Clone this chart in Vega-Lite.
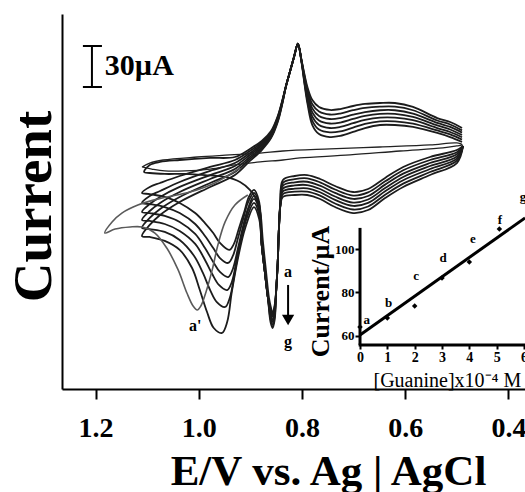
{
"$schema":"https://vega.github.io/schema/vega-lite/v6.json",
"width":463,"height":375,
"autosize":{"type":"none"},
"padding":{"left":62,"top":14,"right":0,"bottom":103},
"background":"white",
"config":{"view":{"stroke":null},"font":"Liberation Serif"},
"datasets":{
"cv":[
{"c":"a","o":1,"E":0.490,"I":180.7},{"c":"a","o":2,"E":0.513,"I":184.3},{"c":"a","o":3,"E":0.538,"I":187.3},{"c":"a","o":4,"E":0.585,"I":191.7},{"c":"a","o":5,"E":0.620,"I":193.1},{"c":"a","o":6,"E":0.649,"I":193.1},{"c":"a","o":7,"E":0.678,"I":190.9},{"c":"a","o":8,"E":0.701,"I":188.0},{"c":"a","o":9,"E":0.726,"I":185.1},{"c":"a","o":10,"E":0.746,"I":184.3},{"c":"a","o":11,"E":0.767,"I":186.5},{"c":"a","o":12,"E":0.780,"I":193.1},{"c":"a","o":13,"E":0.789,"I":207.8},{"c":"a","o":14,"E":0.795,"I":222.4},{"c":"a","o":15,"E":0.801,"I":239.2},{"c":"a","o":16,"E":0.808,"I":252.7},{"c":"a","o":17,"E":0.815,"I":243.6},{"c":"a","o":18,"E":0.823,"I":232.6},{"c":"a","o":19,"E":0.831,"I":221.7},{"c":"a","o":20,"E":0.837,"I":212.9},{"c":"a","o":21,"E":0.847,"I":199.7},{"c":"a","o":22,"E":0.860,"I":188.7},{"c":"a","o":23,"E":0.878,"I":181.4},{"c":"a","o":24,"E":0.901,"I":175.6},{"c":"a","o":25,"E":0.930,"I":169.7},{"c":"a","o":26,"E":0.978,"I":169.0},{"c":"a","o":27,"E":1.037,"I":167.5},{"c":"a","o":28,"E":1.075,"I":166.1},{"c":"a","o":29,"E":1.095,"I":163.9},{"c":"a","o":30,"E":1.106,"I":158.7},{"c":"a","o":31,"E":1.095,"I":158.0},{"c":"a","o":32,"E":1.066,"I":157.3},{"c":"a","o":33,"E":1.027,"I":157.3},{"c":"a","o":34,"E":0.988,"I":156.5},{"c":"a","o":35,"E":0.949,"I":155.1},{"c":"a","o":36,"E":0.920,"I":151.4},{"c":"a","o":37,"E":0.901,"I":145.6},{"c":"a","o":38,"E":0.889,"I":139.0},{"c":"a","o":39,"E":0.881,"I":129.5},{"c":"a","o":40,"E":0.876,"I":109.0},{"c":"a","o":41,"E":0.870,"I":87.1},{"c":"a","o":42,"E":0.864,"I":66.6},{"c":"a","o":43,"E":0.860,"I":59.3},{"c":"a","o":44,"E":0.857,"I":55.6},{"c":"a","o":45,"E":0.853,"I":61.4},{"c":"a","o":46,"E":0.850,"I":72.4},{"c":"a","o":47,"E":0.847,"I":92.9},{"c":"a","o":48,"E":0.845,"I":114.9},{"c":"a","o":49,"E":0.842,"I":134.6},{"c":"a","o":50,"E":0.837,"I":152.9},{"c":"a","o":51,"E":0.814,"I":155.8},{"c":"a","o":52,"E":0.790,"I":156.5},{"c":"a","o":53,"E":0.765,"I":153.6},{"c":"a","o":54,"E":0.736,"I":148.5},{"c":"a","o":55,"E":0.701,"I":144.1},{"c":"a","o":56,"E":0.672,"I":146.3},{"c":"a","o":57,"E":0.639,"I":154.4},{"c":"a","o":58,"E":0.604,"I":162.4},{"c":"a","o":59,"E":0.552,"I":169.7},{"c":"a","o":60,"E":0.500,"I":174.8},{"c":"a","o":61,"E":0.488,"I":177.8},
{"c":"b","o":1,"E":0.490,"I":182.4},{"c":"b","o":2,"E":0.513,"I":186.2},{"c":"b","o":3,"E":0.538,"I":189.1},{"c":"b","o":4,"E":0.585,"I":194.1},{"c":"b","o":5,"E":0.620,"I":195.8},{"c":"b","o":6,"E":0.649,"I":195.8},{"c":"b","o":7,"E":0.678,"I":193.9},{"c":"b","o":8,"E":0.701,"I":191.2},{"c":"b","o":9,"E":0.726,"I":188.4},{"c":"b","o":10,"E":0.746,"I":187.7},{"c":"b","o":11,"E":0.767,"I":189.8},{"c":"b","o":12,"E":0.780,"I":196.2},{"c":"b","o":13,"E":0.789,"I":209.8},{"c":"b","o":14,"E":0.795,"I":223.6},{"c":"b","o":15,"E":0.801,"I":239.4},{"c":"b","o":16,"E":0.808,"I":252.7},{"c":"b","o":17,"E":0.815,"I":243.6},{"c":"b","o":18,"E":0.823,"I":232.6},{"c":"b","o":19,"E":0.831,"I":221.7},{"c":"b","o":20,"E":0.837,"I":212.5},{"c":"b","o":21,"E":0.847,"I":199.0},{"c":"b","o":22,"E":0.860,"I":187.9},{"c":"b","o":23,"E":0.878,"I":180.3},{"c":"b","o":24,"E":0.901,"I":174.1},{"c":"b","o":25,"E":0.930,"I":167.5},{"c":"b","o":26,"E":0.978,"I":162.4},{"c":"b","o":27,"E":1.037,"I":155.8},{"c":"b","o":28,"E":1.075,"I":150.7},{"c":"b","o":29,"E":1.095,"I":147.8},{"c":"b","o":30,"E":1.110,"I":143.4},{"c":"b","o":31,"E":1.095,"I":142.6},{"c":"b","o":32,"E":1.066,"I":140.5},{"c":"b","o":33,"E":1.037,"I":136.1},{"c":"b","o":34,"E":1.007,"I":128.7},{"c":"b","o":35,"E":0.988,"I":121.4},{"c":"b","o":36,"E":0.972,"I":114.1},{"c":"b","o":37,"E":0.959,"I":106.8},{"c":"b","o":38,"E":0.941,"I":101.7},{"c":"b","o":39,"E":0.932,"I":106.1},{"c":"b","o":40,"E":0.922,"I":117.8},{"c":"b","o":41,"E":0.912,"I":129.5},{"c":"b","o":42,"E":0.903,"I":140.5},{"c":"b","o":43,"E":0.893,"I":145.6},{"c":"b","o":44,"E":0.883,"I":136.8},{"c":"b","o":45,"E":0.878,"I":105.3},{"c":"b","o":46,"E":0.872,"I":85.6},{"c":"b","o":47,"E":0.866,"I":66.6},{"c":"b","o":48,"E":0.861,"I":58.5},{"c":"b","o":49,"E":0.857,"I":54.1},{"c":"b","o":50,"E":0.853,"I":60.0},{"c":"b","o":51,"E":0.850,"I":72.4},{"c":"b","o":52,"E":0.847,"I":92.9},{"c":"b","o":53,"E":0.845,"I":114.9},{"c":"b","o":54,"E":0.842,"I":134.6},{"c":"b","o":55,"E":0.837,"I":150.8},{"c":"b","o":56,"E":0.814,"I":153.5},{"c":"b","o":57,"E":0.790,"I":154.1},{"c":"b","o":58,"E":0.765,"I":151.2},{"c":"b","o":59,"E":0.736,"I":145.9},{"c":"b","o":60,"E":0.701,"I":141.5},{"c":"b","o":61,"E":0.672,"I":143.8},{"c":"b","o":62,"E":0.639,"I":151.9},{"c":"b","o":63,"E":0.604,"I":160.0},{"c":"b","o":64,"E":0.552,"I":167.5},{"c":"b","o":65,"E":0.500,"I":173.2},{"c":"b","o":66,"E":0.488,"I":177.8},
{"c":"c","o":1,"E":0.490,"I":184.1},{"c":"c","o":2,"E":0.513,"I":188.0},{"c":"c","o":3,"E":0.538,"I":190.9},{"c":"c","o":4,"E":0.585,"I":196.6},{"c":"c","o":5,"E":0.620,"I":198.5},{"c":"c","o":6,"E":0.649,"I":198.5},{"c":"c","o":7,"E":0.678,"I":196.8},{"c":"c","o":8,"E":0.701,"I":194.4},{"c":"c","o":9,"E":0.726,"I":191.7},{"c":"c","o":10,"E":0.746,"I":190.9},{"c":"c","o":11,"E":0.767,"I":193.1},{"c":"c","o":12,"E":0.780,"I":199.2},{"c":"c","o":13,"E":0.789,"I":211.9},{"c":"c","o":14,"E":0.795,"I":224.8},{"c":"c","o":15,"E":0.801,"I":239.7},{"c":"c","o":16,"E":0.808,"I":252.7},{"c":"c","o":17,"E":0.815,"I":243.6},{"c":"c","o":18,"E":0.823,"I":232.6},{"c":"c","o":19,"E":0.831,"I":221.7},{"c":"c","o":20,"E":0.837,"I":212.2},{"c":"c","o":21,"E":0.847,"I":198.2},{"c":"c","o":22,"E":0.860,"I":187.0},{"c":"c","o":23,"E":0.878,"I":179.2},{"c":"c","o":24,"E":0.901,"I":172.6},{"c":"c","o":25,"E":0.930,"I":165.3},{"c":"c","o":26,"E":0.978,"I":159.5},{"c":"c","o":27,"E":1.037,"I":151.4},{"c":"c","o":28,"E":1.075,"I":144.8},{"c":"c","o":29,"E":1.095,"I":141.2},{"c":"c","o":30,"E":1.110,"I":136.1},{"c":"c","o":31,"E":1.095,"I":135.3},{"c":"c","o":32,"E":1.066,"I":133.1},{"c":"c","o":33,"E":1.037,"I":128.7},{"c":"c","o":34,"E":1.007,"I":120.7},{"c":"c","o":35,"E":0.988,"I":111.9},{"c":"c","o":36,"E":0.972,"I":103.1},{"c":"c","o":37,"E":0.959,"I":95.8},{"c":"c","o":38,"E":0.943,"I":92.2},{"c":"c","o":39,"E":0.934,"I":97.3},{"c":"c","o":40,"E":0.924,"I":110.5},{"c":"c","o":41,"E":0.914,"I":124.4},{"c":"c","o":42,"E":0.905,"I":136.1},{"c":"c","o":43,"E":0.893,"I":143.4},{"c":"c","o":44,"E":0.883,"I":134.6},{"c":"c","o":45,"E":0.878,"I":105.3},{"c":"c","o":46,"E":0.872,"I":85.6},{"c":"c","o":47,"E":0.866,"I":66.6},{"c":"c","o":48,"E":0.861,"I":57.1},{"c":"c","o":49,"E":0.857,"I":52.7},{"c":"c","o":50,"E":0.853,"I":58.5},{"c":"c","o":51,"E":0.850,"I":72.4},{"c":"c","o":52,"E":0.847,"I":92.9},{"c":"c","o":53,"E":0.845,"I":114.9},{"c":"c","o":54,"E":0.842,"I":134.6},{"c":"c","o":55,"E":0.837,"I":148.7},{"c":"c","o":56,"E":0.814,"I":151.2},{"c":"c","o":57,"E":0.790,"I":151.6},{"c":"c","o":58,"E":0.765,"I":148.7},{"c":"c","o":59,"E":0.736,"I":143.4},{"c":"c","o":60,"E":0.701,"I":139.0},{"c":"c","o":61,"E":0.672,"I":141.2},{"c":"c","o":62,"E":0.639,"I":149.5},{"c":"c","o":63,"E":0.604,"I":157.5},{"c":"c","o":64,"E":0.552,"I":165.3},{"c":"c","o":65,"E":0.500,"I":171.7},{"c":"c","o":66,"E":0.488,"I":177.8},
{"c":"d","o":1,"E":0.490,"I":185.8},{"c":"d","o":2,"E":0.513,"I":189.8},{"c":"d","o":3,"E":0.538,"I":192.8},{"c":"d","o":4,"E":0.585,"I":199.0},{"c":"d","o":5,"E":0.620,"I":201.2},{"c":"d","o":6,"E":0.649,"I":201.2},{"c":"d","o":7,"E":0.678,"I":199.7},{"c":"d","o":8,"E":0.701,"I":197.5},{"c":"d","o":9,"E":0.726,"I":194.9},{"c":"d","o":10,"E":0.746,"I":194.2},{"c":"d","o":11,"E":0.767,"I":196.4},{"c":"d","o":12,"E":0.780,"I":202.3},{"c":"d","o":13,"E":0.789,"I":214.0},{"c":"d","o":14,"E":0.795,"I":226.0},{"c":"d","o":15,"E":0.801,"I":239.9},{"c":"d","o":16,"E":0.808,"I":252.7},{"c":"d","o":17,"E":0.815,"I":243.6},{"c":"d","o":18,"E":0.823,"I":232.6},{"c":"d","o":19,"E":0.831,"I":221.7},{"c":"d","o":20,"E":0.837,"I":211.8},{"c":"d","o":21,"E":0.847,"I":197.5},{"c":"d","o":22,"E":0.860,"I":186.1},{"c":"d","o":23,"E":0.878,"I":178.1},{"c":"d","o":24,"E":0.901,"I":171.2},{"c":"d","o":25,"E":0.930,"I":163.1},{"c":"d","o":26,"E":0.978,"I":156.5},{"c":"d","o":27,"E":1.037,"I":147.8},{"c":"d","o":28,"E":1.075,"I":140.5},{"c":"d","o":29,"E":1.095,"I":135.3},{"c":"d","o":30,"E":1.110,"I":129.5},{"c":"d","o":31,"E":1.095,"I":128.7},{"c":"d","o":32,"E":1.066,"I":126.6},{"c":"d","o":33,"E":1.037,"I":122.2},{"c":"d","o":34,"E":1.007,"I":113.4},{"c":"d","o":35,"E":0.988,"I":103.1},{"c":"d","o":36,"E":0.972,"I":92.9},{"c":"d","o":37,"E":0.959,"I":85.6},{"c":"d","o":38,"E":0.943,"I":81.9},{"c":"d","o":39,"E":0.934,"I":87.8},{"c":"d","o":40,"E":0.924,"I":103.1},{"c":"d","o":41,"E":0.914,"I":119.2},{"c":"d","o":42,"E":0.905,"I":131.7},{"c":"d","o":43,"E":0.893,"I":141.2},{"c":"d","o":44,"E":0.883,"I":132.4},{"c":"d","o":45,"E":0.878,"I":105.3},{"c":"d","o":46,"E":0.872,"I":85.6},{"c":"d","o":47,"E":0.866,"I":66.6},{"c":"d","o":48,"E":0.861,"I":54.9},{"c":"d","o":49,"E":0.857,"I":50.5},{"c":"d","o":50,"E":0.853,"I":56.3},{"c":"d","o":51,"E":0.850,"I":72.4},{"c":"d","o":52,"E":0.847,"I":92.9},{"c":"d","o":53,"E":0.845,"I":114.9},{"c":"d","o":54,"E":0.842,"I":134.6},{"c":"d","o":55,"E":0.837,"I":146.6},{"c":"d","o":56,"E":0.814,"I":148.9},{"c":"d","o":57,"E":0.790,"I":149.2},{"c":"d","o":58,"E":0.765,"I":146.3},{"c":"d","o":59,"E":0.736,"I":140.8},{"c":"d","o":60,"E":0.701,"I":136.4},{"c":"d","o":61,"E":0.672,"I":138.6},{"c":"d","o":62,"E":0.639,"I":147.0},{"c":"d","o":63,"E":0.604,"I":155.1},{"c":"d","o":64,"E":0.552,"I":163.1},{"c":"d","o":65,"E":0.500,"I":170.1},{"c":"d","o":66,"E":0.488,"I":177.8},
{"c":"e","o":1,"E":0.490,"I":187.5},{"c":"e","o":2,"E":0.513,"I":191.7},{"c":"e","o":3,"E":0.538,"I":194.6},{"c":"e","o":4,"E":0.585,"I":201.4},{"c":"e","o":5,"E":0.620,"I":203.9},{"c":"e","o":6,"E":0.649,"I":203.9},{"c":"e","o":7,"E":0.678,"I":202.6},{"c":"e","o":8,"E":0.701,"I":200.7},{"c":"e","o":9,"E":0.726,"I":198.2},{"c":"e","o":10,"E":0.746,"I":197.5},{"c":"e","o":11,"E":0.767,"I":199.7},{"c":"e","o":12,"E":0.780,"I":205.3},{"c":"e","o":13,"E":0.789,"I":216.0},{"c":"e","o":14,"E":0.795,"I":227.3},{"c":"e","o":15,"E":0.801,"I":240.2},{"c":"e","o":16,"E":0.808,"I":252.7},{"c":"e","o":17,"E":0.815,"I":243.6},{"c":"e","o":18,"E":0.823,"I":232.6},{"c":"e","o":19,"E":0.831,"I":221.7},{"c":"e","o":20,"E":0.837,"I":211.4},{"c":"e","o":21,"E":0.847,"I":196.8},{"c":"e","o":22,"E":0.860,"I":185.3},{"c":"e","o":23,"E":0.878,"I":177.0},{"c":"e","o":24,"E":0.901,"I":169.7},{"c":"e","o":25,"E":0.930,"I":160.9},{"c":"e","o":26,"E":0.978,"I":153.6},{"c":"e","o":27,"E":1.037,"I":144.1},{"c":"e","o":28,"E":1.075,"I":136.1},{"c":"e","o":29,"E":1.095,"I":130.2},{"c":"e","o":30,"E":1.110,"I":123.6},{"c":"e","o":31,"E":1.095,"I":122.9},{"c":"e","o":32,"E":1.066,"I":120.7},{"c":"e","o":33,"E":1.037,"I":115.6},{"c":"e","o":34,"E":1.007,"I":106.1},{"c":"e","o":35,"E":0.988,"I":94.4},{"c":"e","o":36,"E":0.974,"I":84.1},{"c":"e","o":37,"E":0.961,"I":76.1},{"c":"e","o":38,"E":0.945,"I":72.4},{"c":"e","o":39,"E":0.936,"I":78.3},{"c":"e","o":40,"E":0.926,"I":95.8},{"c":"e","o":41,"E":0.916,"I":114.1},{"c":"e","o":42,"E":0.905,"I":130.2},{"c":"e","o":43,"E":0.893,"I":139.0},{"c":"e","o":44,"E":0.883,"I":130.2},{"c":"e","o":45,"E":0.878,"I":105.3},{"c":"e","o":46,"E":0.872,"I":85.6},{"c":"e","o":47,"E":0.866,"I":66.6},{"c":"e","o":48,"E":0.861,"I":53.4},{"c":"e","o":49,"E":0.857,"I":49.0},{"c":"e","o":50,"E":0.853,"I":54.9},{"c":"e","o":51,"E":0.850,"I":72.4},{"c":"e","o":52,"E":0.847,"I":92.9},{"c":"e","o":53,"E":0.845,"I":114.9},{"c":"e","o":54,"E":0.842,"I":134.6},{"c":"e","o":55,"E":0.837,"I":144.6},{"c":"e","o":56,"E":0.814,"I":146.5},{"c":"e","o":57,"E":0.790,"I":146.8},{"c":"e","o":58,"E":0.765,"I":143.9},{"c":"e","o":59,"E":0.736,"I":138.3},{"c":"e","o":60,"E":0.701,"I":133.9},{"c":"e","o":61,"E":0.672,"I":136.1},{"c":"e","o":62,"E":0.639,"I":144.6},{"c":"e","o":63,"E":0.604,"I":152.7},{"c":"e","o":64,"E":0.552,"I":160.9},{"c":"e","o":65,"E":0.500,"I":168.5},{"c":"e","o":66,"E":0.488,"I":177.8},
{"c":"f","o":1,"E":0.490,"I":189.2},{"c":"f","o":2,"E":0.513,"I":193.5},{"c":"f","o":3,"E":0.538,"I":196.4},{"c":"f","o":4,"E":0.585,"I":203.9},{"c":"f","o":5,"E":0.620,"I":206.5},{"c":"f","o":6,"E":0.649,"I":206.5},{"c":"f","o":7,"E":0.678,"I":205.6},{"c":"f","o":8,"E":0.701,"I":203.9},{"c":"f","o":9,"E":0.726,"I":201.5},{"c":"f","o":10,"E":0.746,"I":200.8},{"c":"f","o":11,"E":0.767,"I":203.0},{"c":"f","o":12,"E":0.780,"I":208.3},{"c":"f","o":13,"E":0.789,"I":218.1},{"c":"f","o":14,"E":0.795,"I":228.5},{"c":"f","o":15,"E":0.801,"I":240.5},{"c":"f","o":16,"E":0.808,"I":252.7},{"c":"f","o":17,"E":0.815,"I":243.6},{"c":"f","o":18,"E":0.823,"I":232.6},{"c":"f","o":19,"E":0.831,"I":221.7},{"c":"f","o":20,"E":0.837,"I":211.0},{"c":"f","o":21,"E":0.847,"I":196.0},{"c":"f","o":22,"E":0.860,"I":184.3},{"c":"f","o":23,"E":0.878,"I":175.9},{"c":"f","o":24,"E":0.901,"I":168.3},{"c":"f","o":25,"E":0.930,"I":158.7},{"c":"f","o":26,"E":0.978,"I":150.7},{"c":"f","o":27,"E":1.037,"I":140.5},{"c":"f","o":28,"E":1.075,"I":131.7},{"c":"f","o":29,"E":1.095,"I":125.1},{"c":"f","o":30,"E":1.110,"I":117.8},{"c":"f","o":31,"E":1.095,"I":117.0},{"c":"f","o":32,"E":1.066,"I":114.9},{"c":"f","o":33,"E":1.037,"I":109.0},{"c":"f","o":34,"E":1.009,"I":97.3},{"c":"f","o":35,"E":0.992,"I":84.9},{"c":"f","o":36,"E":0.978,"I":72.4},{"c":"f","o":37,"E":0.965,"I":63.6},{"c":"f","o":38,"E":0.949,"I":60.0},{"c":"f","o":39,"E":0.940,"I":66.6},{"c":"f","o":40,"E":0.930,"I":85.6},{"c":"f","o":41,"E":0.920,"I":106.1},{"c":"f","o":42,"E":0.907,"I":125.1},{"c":"f","o":43,"E":0.893,"I":136.1},{"c":"f","o":44,"E":0.883,"I":127.3},{"c":"f","o":45,"E":0.878,"I":105.3},{"c":"f","o":46,"E":0.872,"I":85.6},{"c":"f","o":47,"E":0.866,"I":66.6},{"c":"f","o":48,"E":0.861,"I":51.2},{"c":"f","o":49,"E":0.857,"I":46.8},{"c":"f","o":50,"E":0.853,"I":52.7},{"c":"f","o":51,"E":0.850,"I":72.4},{"c":"f","o":52,"E":0.847,"I":92.9},{"c":"f","o":53,"E":0.845,"I":114.9},{"c":"f","o":54,"E":0.842,"I":134.6},{"c":"f","o":55,"E":0.837,"I":142.5},{"c":"f","o":56,"E":0.814,"I":144.3},{"c":"f","o":57,"E":0.790,"I":144.3},{"c":"f","o":58,"E":0.765,"I":141.4},{"c":"f","o":59,"E":0.736,"I":135.7},{"c":"f","o":60,"E":0.701,"I":131.3},{"c":"f","o":61,"E":0.672,"I":133.5},{"c":"f","o":62,"E":0.639,"I":142.1},{"c":"f","o":63,"E":0.604,"I":150.2},{"c":"f","o":64,"E":0.552,"I":158.7},{"c":"f","o":65,"E":0.500,"I":167.0},{"c":"f","o":66,"E":0.488,"I":177.8},
{"c":"g","o":1,"E":0.490,"I":190.9},{"c":"g","o":2,"E":0.513,"I":195.3},{"c":"g","o":3,"E":0.538,"I":198.2},{"c":"g","o":4,"E":0.585,"I":206.3},{"c":"g","o":5,"E":0.620,"I":209.2},{"c":"g","o":6,"E":0.649,"I":209.2},{"c":"g","o":7,"E":0.678,"I":208.5},{"c":"g","o":8,"E":0.701,"I":207.0},{"c":"g","o":9,"E":0.726,"I":204.8},{"c":"g","o":10,"E":0.746,"I":204.1},{"c":"g","o":11,"E":0.767,"I":206.3},{"c":"g","o":12,"E":0.780,"I":211.4},{"c":"g","o":13,"E":0.789,"I":220.2},{"c":"g","o":14,"E":0.795,"I":229.7},{"c":"g","o":15,"E":0.801,"I":240.7},{"c":"g","o":16,"E":0.808,"I":252.7},{"c":"g","o":17,"E":0.815,"I":243.6},{"c":"g","o":18,"E":0.823,"I":232.6},{"c":"g","o":19,"E":0.831,"I":221.7},{"c":"g","o":20,"E":0.837,"I":210.7},{"c":"g","o":21,"E":0.847,"I":195.3},{"c":"g","o":22,"E":0.860,"I":183.5},{"c":"g","o":23,"E":0.878,"I":174.8},{"c":"g","o":24,"E":0.901,"I":166.8},{"c":"g","o":25,"E":0.930,"I":156.5},{"c":"g","o":26,"E":0.978,"I":147.8},{"c":"g","o":27,"E":1.037,"I":136.8},{"c":"g","o":28,"E":1.075,"I":127.3},{"c":"g","o":29,"E":1.095,"I":120.0},{"c":"g","o":30,"E":1.110,"I":111.9},{"c":"g","o":31,"E":1.095,"I":111.2},{"c":"g","o":32,"E":1.066,"I":108.3},{"c":"g","o":33,"E":1.037,"I":101.7},{"c":"g","o":34,"E":1.013,"I":88.5},{"c":"g","o":35,"E":0.998,"I":72.4},{"c":"g","o":36,"E":0.984,"I":56.3},{"c":"g","o":37,"E":0.971,"I":44.6},{"c":"g","o":38,"E":0.955,"I":41.0},{"c":"g","o":39,"E":0.945,"I":49.0},{"c":"g","o":40,"E":0.936,"I":71.0},{"c":"g","o":41,"E":0.924,"I":95.8},{"c":"g","o":42,"E":0.910,"I":117.8},{"c":"g","o":43,"E":0.893,"I":133.1},{"c":"g","o":44,"E":0.883,"I":124.4},{"c":"g","o":45,"E":0.878,"I":105.3},{"c":"g","o":46,"E":0.872,"I":85.6},{"c":"g","o":47,"E":0.866,"I":66.6},{"c":"g","o":48,"E":0.861,"I":49.0},{"c":"g","o":49,"E":0.857,"I":44.6},{"c":"g","o":50,"E":0.853,"I":50.5},{"c":"g","o":51,"E":0.850,"I":72.4},{"c":"g","o":52,"E":0.847,"I":92.9},{"c":"g","o":53,"E":0.845,"I":114.9},{"c":"g","o":54,"E":0.842,"I":134.6},{"c":"g","o":55,"E":0.837,"I":140.5},{"c":"g","o":56,"E":0.814,"I":141.9},{"c":"g","o":57,"E":0.790,"I":141.9},{"c":"g","o":58,"E":0.765,"I":139.0},{"c":"g","o":59,"E":0.736,"I":133.1},{"c":"g","o":60,"E":0.701,"I":128.7},{"c":"g","o":61,"E":0.672,"I":130.9},{"c":"g","o":62,"E":0.639,"I":139.7},{"c":"g","o":63,"E":0.604,"I":147.8},{"c":"g","o":64,"E":0.552,"I":156.5},{"c":"g","o":65,"E":0.500,"I":165.3},{"c":"g","o":66,"E":0.488,"I":177.8}
],
"blank":[
{"c":"blank","o":1,"E":1.110,"I":162.4},{"c":"blank","o":2,"E":1.095,"I":165.3},{"c":"blank","o":3,"E":1.069,"I":167.5},{"c":"blank","o":4,"E":1.003,"I":169.7},{"c":"blank","o":5,"E":0.940,"I":171.2},{"c":"blank","o":6,"E":0.881,"I":172.6},{"c":"blank","o":7,"E":0.837,"I":174.1},{"c":"blank","o":8,"E":0.746,"I":175.6},{"c":"blank","o":9,"E":0.649,"I":177.0},{"c":"blank","o":10,"E":0.552,"I":178.5},{"c":"blank","o":11,"E":0.500,"I":180.0},{"c":"blank","o":12,"E":0.490,"I":178.5},{"c":"blank","o":13,"E":0.500,"I":177.8},{"c":"blank","o":14,"E":0.527,"I":176.3},{"c":"blank","o":15,"E":0.610,"I":174.1},{"c":"blank","o":16,"E":0.707,"I":171.2},{"c":"blank","o":17,"E":0.804,"I":169.0},{"c":"blank","o":18,"E":0.837,"I":167.5},{"c":"blank","o":19,"E":0.881,"I":166.1},{"c":"blank","o":20,"E":0.930,"I":163.9},{"c":"blank","o":21,"E":0.978,"I":160.9},{"c":"blank","o":22,"E":1.027,"I":159.5},{"c":"blank","o":23,"E":1.066,"I":159.5},{"c":"blank","o":24,"E":1.091,"I":160.9},{"c":"blank","o":25,"E":1.110,"I":162.4}
],
"aprime":[
{"c":"a'","o":1,"E":0.920,"I":161.7},{"c":"a'","o":2,"E":0.969,"I":150.7},{"c":"a'","o":3,"E":1.017,"I":144.1},{"c":"a'","o":4,"E":1.071,"I":139.7},{"c":"a'","o":5,"E":1.118,"I":134.6},{"c":"a'","o":6,"E":1.149,"I":128.7},{"c":"a'","o":7,"E":1.168,"I":122.2},{"c":"a'","o":8,"E":1.182,"I":114.1},{"c":"a'","o":9,"E":1.162,"I":117.0},{"c":"a'","o":10,"E":1.133,"I":118.5},{"c":"a'","o":11,"E":1.110,"I":118.5},{"c":"a'","o":12,"E":1.085,"I":114.1},{"c":"a'","o":13,"E":1.062,"I":103.1},{"c":"a'","o":14,"E":1.040,"I":87.1},{"c":"a'","o":15,"E":1.023,"I":70.2},{"c":"a'","o":16,"E":1.011,"I":60.7},{"c":"a'","o":17,"E":1.003,"I":57.8},{"c":"a'","o":18,"E":0.996,"I":60.7},{"c":"a'","o":19,"E":0.986,"I":71.0},{"c":"a'","o":20,"E":0.974,"I":87.1},{"c":"a'","o":21,"E":0.963,"I":105.3},{"c":"a'","o":22,"E":0.949,"I":122.2},{"c":"a'","o":23,"E":0.930,"I":134.6},{"c":"a'","o":24,"E":0.905,"I":141.9}
],
"bar":[{"E":1.207,"I":220.9,"E2":1.207,"I2":250.9},{"E":1.2245,"I":250.9,"E2":1.1876,"I2":250.9},{"E":1.2245,"I":220.9,"E2":1.1876,"I2":220.9},{"E":0.827,"I":76.1,"E2":0.827,"I2":54.1}],
"head":[{"E":0.827,"I":50.5}],
"big":[{"E":1.182,"I":236.3,"t":"30µA"}],
"small":[{"E":0.827,"I":85.6,"t":"a"},{"E":0.827,"I":34.4,"t":"g"},{"E":1.007,"I":46.1,"t":"a'"}],
"pts":[{"x":0,"y":64.1},{"x":1,"y":68.3},{"x":2,"y":73.8},{"x":3,"y":86.7},{"x":4,"y":94.0},{"x":5.1,"y":109.2}],
"labs":[{"x":0.25,"y":67.4,"t":"a"},{"x":1.05,"y":75.2,"t":"b"},{"x":2.05,"y":87.6,"t":"c"},{"x":3.04,"y":95.9,"t":"d"},{"x":4.13,"y":104.6,"t":"e"},{"x":5.12,"y":113.3,"t":"f"},{"x":5.96,"y":123.9,"t":"g"}],
"fit":[{"x":0,"y":60.5},{"x":6.04,"y":114.3}],
"frame":[{"x":0,"y":55.9,"x2":0,"y2":109.7},{"x":-0.05,"y":55.9,"x2":6.04,"y2":55.9}]
},
"resolve":{"scale":{"x":"independent","y":"independent"}},
"layer":[
{"layer":[
{"data":{"name":"cv"},"mark":{"type":"line","interpolate":"catmull-rom","stroke":"#1c1c1c","strokeWidth":1.8},
 "encoding":{
  "x":{"field":"E","type":"quantitative","scale":{"domain":[0.368,1.265],"reverse":true,"nice":false,"zero":false},
   "axis":{"orient":"bottom","values":[1.2,1.0,0.8,0.6,0.4],"format":".1f","grid":false,"domainColor":"black","domainWidth":2,"tickColor":"black","tickWidth":2,"tickSize":10,"labelFont":"Liberation Serif","labelFontSize":28,"labelFontWeight":"bold","labelColor":"black","labelPadding":15,"labelFlush":false,"labelOverlap":false,"title":"E/V vs. Ag | AgCl","titleFont":"Liberation Serif","titleFontSize":43,"titleFontWeight":"bold","titleColor":"black","titleX":266,"titleY":95,"titleAlign":"center","titleBaseline":"alphabetic"}},
  "y":{"field":"I","type":"quantitative","scale":{"domain":[0,274.3],"nice":false,"zero":false},
   "axis":{"orient":"left","grid":false,"domainColor":"black","domainWidth":2,"ticks":false,"labels":false,"title":"Current","titleFont":"Liberation Serif","titleFontSize":55,"titleFontWeight":"bold","titleColor":"black","titleAngle":270,"titleX":-12,"titleY":192,"titleAlign":"center","titleBaseline":"alphabetic"}},
  "detail":{"field":"c","type":"nominal"},
  "order":{"field":"o","type":"quantitative"}}},
{"data":{"name":"blank"},"mark":{"type":"line","interpolate":"catmull-rom","stroke":"#222222","strokeWidth":1.3},
 "encoding":{"x":{"field":"E","type":"quantitative","scale":{"domain":[0.368,1.265],"reverse":true,"nice":false,"zero":false}},
  "y":{"field":"I","type":"quantitative","scale":{"domain":[0,274.3],"nice":false,"zero":false}},
  "order":{"field":"o","type":"quantitative"}}},
{"data":{"name":"aprime"},"mark":{"type":"line","interpolate":"catmull-rom","stroke":"#5a5a5a","strokeWidth":1.6},
 "encoding":{"x":{"field":"E","type":"quantitative","scale":{"domain":[0.368,1.265],"reverse":true,"nice":false,"zero":false}},
  "y":{"field":"I","type":"quantitative","scale":{"domain":[0,274.3],"nice":false,"zero":false}},
  "order":{"field":"o","type":"quantitative"}}},
{"data":{"name":"bar"},"mark":{"type":"rule","stroke":"black","strokeWidth":2},
 "encoding":{"x":{"field":"E","type":"quantitative","scale":{"domain":[0.368,1.265],"reverse":true,"nice":false,"zero":false}},
  "y":{"field":"I","type":"quantitative","scale":{"domain":[0,274.3],"nice":false,"zero":false}},
  "x2":{"field":"E2"},"y2":{"field":"I2"}}},
{"data":{"name":"head"},"mark":{"type":"point","shape":"triangle-down","filled":true,"color":"black","size":150,"opacity":1},
 "encoding":{"x":{"field":"E","type":"quantitative","scale":{"domain":[0.368,1.265],"reverse":true,"nice":false,"zero":false}},
  "y":{"field":"I","type":"quantitative","scale":{"domain":[0,274.3],"nice":false,"zero":false}}}},
{"data":{"name":"big"},"mark":{"type":"text","font":"Liberation Serif","fontSize":30,"fontWeight":"bold","align":"left","baseline":"middle","color":"black"},
 "encoding":{"x":{"field":"E","type":"quantitative","scale":{"domain":[0.368,1.265],"reverse":true,"nice":false,"zero":false}},
  "y":{"field":"I","type":"quantitative","scale":{"domain":[0,274.3],"nice":false,"zero":false}},
  "text":{"field":"t"}}},
{"data":{"name":"small"},"mark":{"type":"text","font":"Liberation Serif","fontSize":16,"fontWeight":"bold","align":"center","baseline":"middle","color":"black"},
 "encoding":{"x":{"field":"E","type":"quantitative","scale":{"domain":[0.368,1.265],"reverse":true,"nice":false,"zero":false}},
  "y":{"field":"I","type":"quantitative","scale":{"domain":[0,274.3],"nice":false,"zero":false}},
  "text":{"field":"t"}}},
{"mark":{"type":"rule","stroke":"black","strokeWidth":2},
 "encoding":{"y":{"datum":274.3,"type":"quantitative","scale":{"domain":[0,274.3],"nice":false,"zero":false}}}}
]},
{"layer":[
{"data":{"name":"frame"},"mark":{"type":"rule","stroke":"black","strokeWidth":3},
 "encoding":{
  "x":{"field":"x","type":"quantitative","scale":{"domain":[-10.904,6.037],"nice":false,"zero":false},
   "axis":{"orient":"bottom","offset":-44,"values":[0,1,2,3,4,5,6],"domain":false,"grid":false,"tickSize":4,"tickWidth":2,"tickColor":"black","labelFont":"Liberation Serif","labelFontSize":14,"labelFontWeight":"bold","labelColor":"black","labelPadding":1,"labelFlush":false,"labelOverlap":false,"title":"[Guanine]x10⁻⁴ M","titleFont":"Liberation Serif","titleFontSize":20,"titleFontWeight":"normal","titleColor":"black","titleX":311,"titleY":41,"titleAlign":"left","titleBaseline":"alphabetic"}},
  "y":{"field":"y","type":"quantitative","scale":{"domain":[35.63,208.05],"nice":false,"zero":false},
   "axis":{"orient":"left","offset":-298,"values":[60,80,100],"domain":false,"grid":false,"tickSize":5,"tickWidth":2,"tickColor":"black","labelFont":"Liberation Serif","labelFontSize":13,"labelFontWeight":"bold","labelColor":"black","labelPadding":1,"labelFlush":false,"labelOverlap":false,"title":"Current/µA","titleFont":"Liberation Serif","titleFontSize":26,"titleFontWeight":"bold","titleColor":"black","titleAngle":270,"titleX":-32,"titleY":277,"titleAlign":"center","titleBaseline":"alphabetic"}},
  "x2":{"field":"x2"},"y2":{"field":"y2"}}},
{"data":{"name":"fit"},"mark":{"type":"line","stroke":"black","strokeWidth":3},
 "encoding":{"x":{"field":"x","type":"quantitative","scale":{"domain":[-10.904,6.037],"nice":false,"zero":false}},
  "y":{"field":"y","type":"quantitative","scale":{"domain":[35.63,208.05],"nice":false,"zero":false}}}},
{"data":{"name":"pts"},"mark":{"type":"point","shape":"diamond","filled":true,"color":"black","size":30,"opacity":1},
 "encoding":{"x":{"field":"x","type":"quantitative","scale":{"domain":[-10.904,6.037],"nice":false,"zero":false}},
  "y":{"field":"y","type":"quantitative","scale":{"domain":[35.63,208.05],"nice":false,"zero":false}}}},
{"data":{"name":"labs"},"mark":{"type":"text","font":"Liberation Serif","fontSize":13,"fontWeight":"bold","align":"center","baseline":"middle","color":"black"},
 "encoding":{"x":{"field":"x","type":"quantitative","scale":{"domain":[-10.904,6.037],"nice":false,"zero":false}},
  "y":{"field":"y","type":"quantitative","scale":{"domain":[35.63,208.05],"nice":false,"zero":false}},
  "text":{"field":"t"}}}
]}
]
}
